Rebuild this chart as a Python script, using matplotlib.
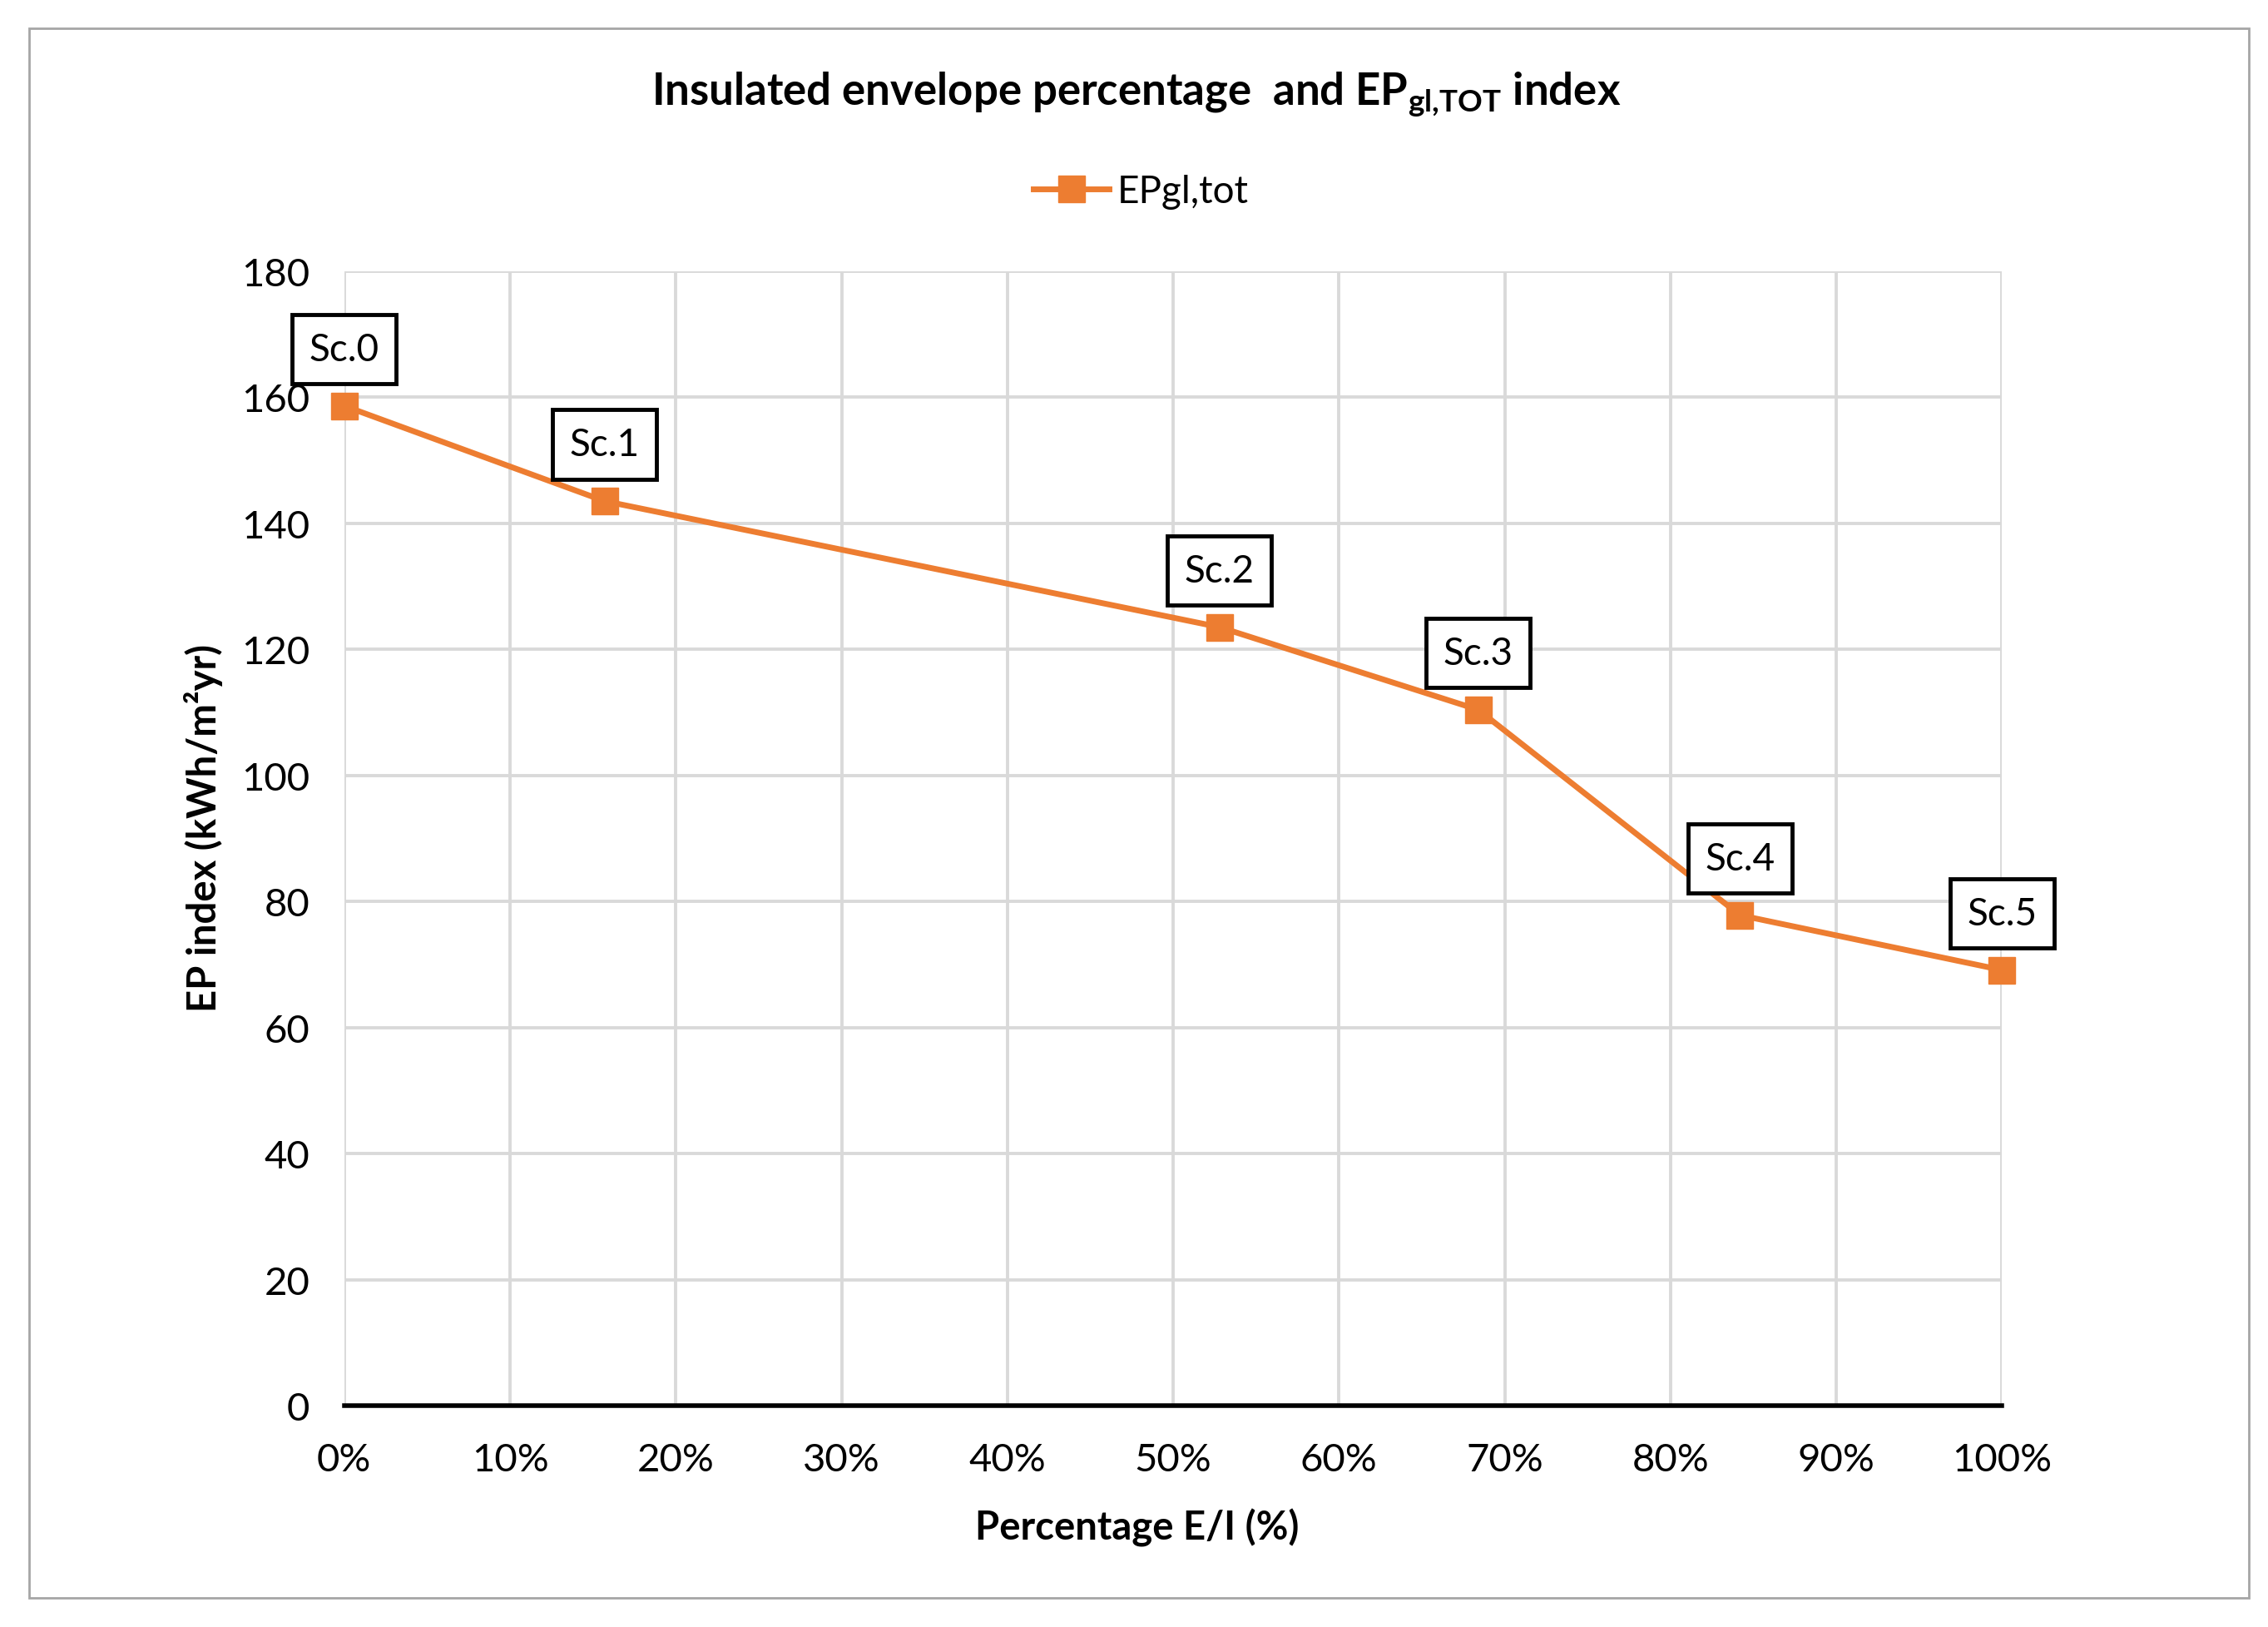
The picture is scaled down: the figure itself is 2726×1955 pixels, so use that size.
import matplotlib
matplotlib.use("Agg")
import matplotlib.pyplot as plt
from matplotlib.patches import Rectangle
from matplotlib.ticker import PercentFormatter

# data
scenarios = ["Sc.0", "Sc.1", "Sc.2", "Sc.3", "Sc.4", "Sc.5"]
pct_ei = [0.0, 15.7, 52.8, 68.4, 84.2, 100.0]
ep_tot = [158.6, 143.5, 123.5, 110.4, 77.8, 69.1]
y_ticks = [0, 20, 40, 60, 80, 100, 120, 140, 160, 180]
x_ticks = [0, 10, 20, 30, 40, 50, 60, 70, 80, 90, 100]

orange = "#ED7D31"
grid_col = "#D9D9D9"

plt.rcParams['font.family'] = ['Lato', 'DejaVu Sans']
plt.rcParams['mathtext.fontset'] = 'custom'
plt.rcParams['mathtext.rm'] = 'Lato'
plt.rcParams['mathtext.bf'] = 'Lato:bold'

fig = plt.figure(figsize=(27.26, 19.56), dpi=100)
ax = fig.add_axes([0.1518, 0.136, 0.8827 - 0.1518, 0.833 - 0.136])

# outer chart border
fig.patches.append(Rectangle((0.0128, 0.0178), 0.9917 - 0.0128, 0.982 - 0.0178,
                             transform=fig.transFigure, fill=False,
                             edgecolor="#A6A6A6", linewidth=2))

ax.plot(pct_ei, ep_tot, color=orange, linewidth=5, marker="s",
        markersize=23, markerfacecolor=orange, markeredgecolor=orange,
        label="EPgl,tot", zorder=5, clip_on=False)

for name, x, y in zip(scenarios, pct_ei, ep_tot):
    ax.annotate(name, (x, y), xytext=(0, 49), textcoords="offset points",
                ha="center", va="center", fontsize=33, zorder=6,
                bbox=dict(boxstyle="square,pad=0.45", facecolor="white",
                          edgecolor="black", linewidth=3.5))

ax.set_xlim(0, 100)
ax.set_ylim(0, 180)
ax.set_xticks(x_ticks)
ax.set_yticks(y_ticks)
ax.xaxis.set_major_formatter(PercentFormatter(decimals=0))
ax.grid(True, color=grid_col, linewidth=2.8)
ax.set_axisbelow(True)
ax.tick_params(length=0, labelsize=34, pad=30)
ax.tick_params(axis="x", pad=32)

for s in ["left", "right", "top"]:
    ax.spines[s].set_visible(False)
ax.spines["bottom"].set_color("black")
ax.spines["bottom"].set_linewidth(4)
ax.spines["bottom"].set_zorder(4)

ax.set_xlabel("Percentage E/I (%)", fontsize=34, fontweight="bold")
ax.set_ylabel("EP index (kWh/m²yr)", fontsize=34, fontweight="bold")
ax.xaxis.set_label_coords(0.478, -0.09)
ax.yaxis.set_label_coords(-0.073, 0.51)

fig.text(0.501, 0.942, r"Insulated envelope percentage  and EP$_{\mathbf{gl{,}TOT}}$ index",
         ha="center", va="center", fontsize=38, fontweight="bold")

ax.legend(loc="center", bbox_to_anchor=(0.503, 0.882), bbox_transform=fig.transFigure,
          frameon=False, fontsize=33, handlelength=2.0, handletextpad=0.2)

fig.savefig("out.png", dpi=100, facecolor="white")
